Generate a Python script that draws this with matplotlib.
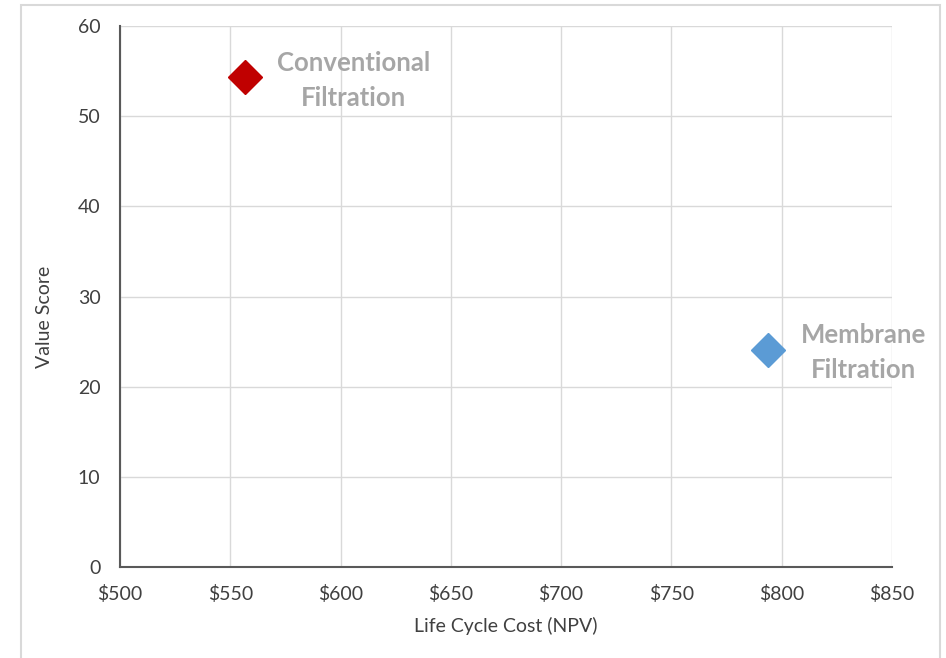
import matplotlib.pyplot as plt
from matplotlib.patches import Rectangle

# data
options = ['Conventional\nFiltration', 'Membrane\nFiltration']
life_cycle_cost = [556.7, 794.0]
value_score = [54.3, 24.1]
colors = ['#C00000', '#5B9BD5']
x_ticks = [500, 550, 600, 650, 700, 750, 800, 850]
y_ticks = [0, 10, 20, 30, 40, 50, 60]

plt.rcParams['font.family'] = ['Lato', 'DejaVu Sans']

fig = plt.figure(figsize=(9.46, 6.58), dpi=100)
fig.patches.append(Rectangle((21 / 946, -0.01), (940 - 21) / 946, 1.01 - 5 / 658,
                             transform=fig.transFigure, fill=False,
                             edgecolor='#D9D9D9', linewidth=1.5))

ax = fig.add_axes([120 / 946, (658 - 567) / 658, (892 - 120) / 946, (567 - 26) / 658])

for x, y, c, name in zip(life_cycle_cost, value_score, colors, options):
    ax.plot(x, y, marker='D', markersize=17.5, color=c, linestyle='none', zorder=3)
    ax.annotate(name, (x, y), xytext=(23, -2), textcoords='offset points',
                ha='left', va='center', fontsize=18.5, fontweight='bold',
                color='#A6A6A6', multialignment='center', linespacing=1.55)

ax.set_xlim(500, 850)
ax.set_ylim(0, 60)
ax.set_xticks(x_ticks)
ax.set_xticklabels(['$' + str(v) for v in x_ticks])
ax.set_yticks(y_ticks)
ax.grid(True, color='#D9D9D9', linewidth=1)
ax.set_axisbelow(True)
ax.tick_params(length=0, labelsize=14, labelcolor='#404040')
ax.tick_params(axis='x', pad=13)
ax.tick_params(axis='y', pad=14)

for side in ['top', 'right']:
    ax.spines[side].set_visible(False)
for side in ['left', 'bottom']:
    ax.spines[side].set_color('#595959')
    ax.spines[side].set_linewidth(1.5)

ax.set_xlabel('Life Cycle Cost (NPV)', fontsize=14, color='#404040', labelpad=10)
ax.set_ylabel('Value Score', fontsize=14, color='#404040')
ax.yaxis.set_label_coords(-0.087, 0.462)

fig.savefig('out.png', dpi=100)
